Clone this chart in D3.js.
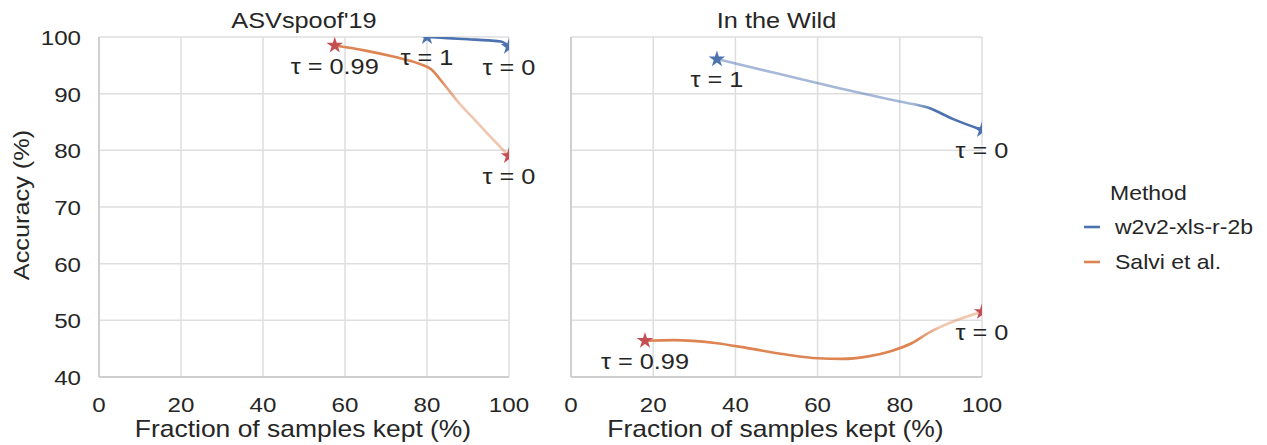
<!DOCTYPE html>
<html>
<head>
<meta charset="utf-8">
<script src="https://cdn.jsdelivr.net/npm/d3@7"></script>
<style>
  body { margin: 0; background: #fff; }
  text { font-family: "Liberation Sans", Arial, sans-serif; fill: #262626; }
</style>
</head>
<body>
<svg id="chart" width="1267" height="445"></svg>
<script>
// ---- data ----
var xTicks = [0, 20, 40, 60, 80, 100];
var yTicks = [40, 50, 60, 70, 80, 90, 100];
var panelTitles = ["ASVspoof'19", "In the Wild"];
var methods = ["w2v2-xls-r-2b", "Salvi et al."];

// ASVspoof'19
var asvW2v2 = [[80, 100], [85, 99.8], [90, 99.6], [95, 99.4], [98, 99.2], [99, 98.9], [100, 98.3]];
var asvSalvi = [[57.5, 98.5], [65, 97.6], [72, 96.5], [78, 95.3], [81, 94.3], [84, 91.8], [88, 88.2], [92, 85.1], [96, 82], [100, 79]];
var asvW2v2Tau = ["1", "0"];
var asvSalviTau = ["0.99", "0"];

// In the Wild
var wildW2v2 = [[35.5, 96.1], [50, 93.6], [65, 91], [80, 88.6], [87, 87.5], [93, 85.5], [100, 83.6]];
var wildSalvi = [[18, 46.4], [25, 46.5], [35, 46], [43, 45.1], [52, 44], [60, 43.3], [66, 43.2], [72, 43.6], [78, 44.6], [83, 46], [87, 47.8], [93, 49.8], [100, 51.5]];
var wildW2v2Tau = ["1", "0"];
var wildSalviTau = ["0.99", "0"];

(function() {
    'use strict';

    var colors = { blue: "#4c72b0", orange: "#dd8452", red: "#c44e52" };
    var tauOffset = 5; // label sits this many accuracy units below the star
    var stretch = 1.15; // reference text is a bit wider than Liberation Sans

    var svg = d3.select("#chart");
    var plotTop = 37, plotBottom = 377;

    // text with a horizontal stretch, anchored at (x, y)
    var addText = function(parent, x, y, str, size, anchor) {
        return parent.append("text")
            .attr("transform", "translate(" + x + "," + y + ") scale(" + stretch + ",1)")
            .attr("text-anchor", anchor || "start")
            .attr("font-size", size)
            .text(str);
    };

    var panels = [
        { x0: 99, x1: 509, title: panelTitles[0], yLabels: true,
          series: [
            { pts: asvW2v2, tau: asvW2v2Tau, color: colors.blue, star: colors.blue, fade: null },
            { pts: asvSalvi, tau: asvSalviTau, color: colors.orange, star: colors.red, fade: [[83, 1], [88, 0.45]] }
          ] },
        { x0: 571, x1: 982, title: panelTitles[1], yLabels: false,
          series: [
            { pts: wildW2v2, tau: wildW2v2Tau, color: colors.blue, star: colors.blue, fade: [[36, 0.5], [83, 0.5], [88, 1]] },
            { pts: wildSalvi, tau: wildSalviTau, color: colors.orange, star: colors.red, fade: [[84, 1], [90, 0.45]] }
          ] }
    ];

    var y = d3.scaleLinear().domain([40, 100]).range([plotBottom, plotTop]);
    var defs = svg.append("defs");

    panels.forEach(function(p, pi) {
        var x = d3.scaleLinear().domain([0, 100]).range([p.x0, p.x1]);
        var g = svg.append("g");

        // grid
        g.selectAll(".gx").data(xTicks).enter().append("line")
            .attr("x1", function(d) { return x(d); }).attr("x2", function(d) { return x(d); })
            .attr("y1", plotTop).attr("y2", plotBottom)
            .attr("stroke", "#dedede").attr("stroke-width", 1.5);
        g.selectAll(".gy").data(yTicks).enter().append("line")
            .attr("x1", p.x0).attr("x2", p.x1)
            .attr("y1", function(d) { return y(d); }).attr("y2", function(d) { return y(d); })
            .attr("stroke", "#dedede").attr("stroke-width", 1.5);

        // spines
        g.append("line").attr("x1", p.x0).attr("x2", p.x0).attr("y1", plotTop).attr("y2", plotBottom)
            .attr("stroke", "#cfcfcf").attr("stroke-width", 2);
        g.append("line").attr("x1", p.x0).attr("x2", p.x1).attr("y1", plotBottom).attr("y2", plotBottom)
            .attr("stroke", "#cfcfcf").attr("stroke-width", 2);

        // tick labels
        xTicks.forEach(function(d) { addText(g, x(d), 412, d, 21, "middle"); });
        if (p.yLabels) {
            yTicks.forEach(function(d) { addText(g, 81, y(d) + 8, d, 21, "end"); });
        }

        // titles
        addText(g, (p.x0 + p.x1) / 2, 28, p.title, 22, "middle");
        addText(g, (p.x0 + p.x1) / 2 - 1, 437, "Fraction of samples kept (%)", 23, "middle");

        // clip
        defs.append("clipPath").attr("id", "clip" + pi).append("rect")
            .attr("x", p.x0).attr("y", plotTop).attr("width", p.x1 - p.x0).attr("height", plotBottom - plotTop);
        var plot = g.append("g").attr("clip-path", "url(#clip" + pi + ")");

        var line = d3.line()
            .x(function(d) { return x(d[0]); })
            .y(function(d) { return y(d[1]); })
            .curve(d3.curveMonotoneX);

        p.series.forEach(function(s, si) {
            var stroke = s.color;
            if (s.fade) {
                var gid = "grad" + pi + "_" + si;
                var grad = defs.append("linearGradient").attr("id", gid)
                    .attr("gradientUnits", "userSpaceOnUse")
                    .attr("x1", x(0)).attr("x2", x(100)).attr("y1", 0).attr("y2", 0);
                s.fade.forEach(function(f) {
                    grad.append("stop").attr("offset", f[0] / 100)
                        .attr("stop-color", s.color).attr("stop-opacity", f[1]);
                });
                stroke = "url(#" + gid + ")";
            }
            plot.append("path").datum(s.pts)
                .attr("d", line).attr("fill", "none")
                .attr("stroke", stroke).attr("stroke-width", 2.6);

            var ends = [s.pts[0], s.pts[s.pts.length - 1]];
            plot.selectAll(".star" + si).data(ends).enter().append("path")
                .attr("d", d3.symbol().type(d3.symbolStar).size(85))
                .attr("transform", function(d) { return "translate(" + x(d[0]) + "," + y(d[1]) + ")"; })
                .attr("fill", s.star);

            ends.forEach(function(d, i) {
                addText(g, x(d[0]), y(d[1] - tauOffset), "\u03c4 = " + s.tau[i], 22, "middle");
            });
        });
    });

    // y axis label
    svg.append("text").attr("transform", "translate(29,205) rotate(-90) scale(" + stretch + ",1)")
        .attr("text-anchor", "middle").attr("font-size", 22).text("Accuracy (%)");

    // legend
    var legend = svg.append("g");
    addText(legend, 1110, 200, "Method", 20);
    var legendColors = [colors.blue, colors.orange];
    methods.forEach(function(d, i) {
        var yy = 227 + i * 35;
        legend.append("line").attr("x1", 1084).attr("x2", 1100)
            .attr("y1", yy).attr("y2", yy)
            .attr("stroke", legendColors[i]).attr("stroke-width", 2.6);
        addText(legend, 1115, yy + 7, d, 20);
    });
}());
</script>
</body>
</html>
